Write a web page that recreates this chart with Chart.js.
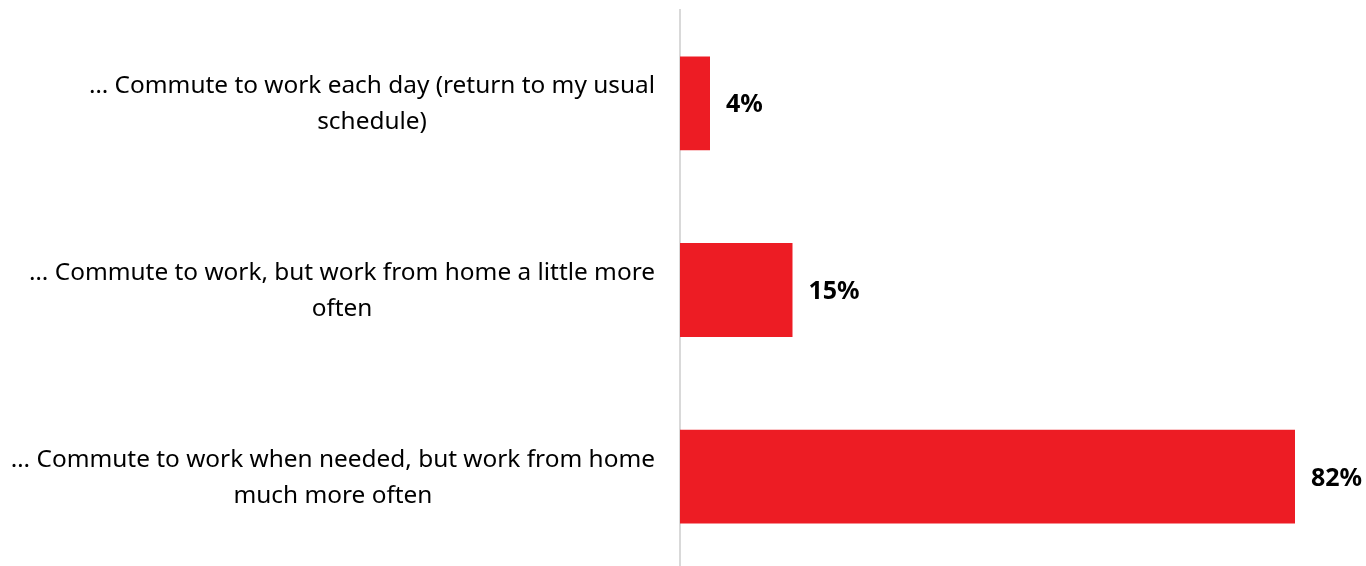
<!DOCTYPE html>
<html>
<head>
<meta charset="utf-8">
<script src="https://cdn.jsdelivr.net/npm/chart.js@4"></script>
<style>
  html, body { margin: 0; padding: 0; background: #fff; overflow: hidden; }
  #wrap { width: 1366px; height: 570px; }
</style>
</head>
<body>
<div id="wrap"><canvas id="commuteChart"></canvas></div>
<script>
const categories = [
  ["… Commute to work each day (return to my usual", "schedule)"],
  ["… Commute to work, but work from home a little more", "often"],
  ["… Commute to work when needed, but work from home", "much more often"],
];
const shares = [4, 15, 82];

const labelFont = '24.4px "Noto Sans", "Open Sans", sans-serif';
const valueFont = 'bold 25px "Noto Sans", "Open Sans", sans-serif';

// category labels: block right-aligned, lines centred inside the block
const labelPlugin = {
  id: "labels",
  afterDatasetsDraw(chart) {
    const { ctx, scales } = chart;
    const yScale = scales.y;
    const rightEdge = chart.chartArea.left - 25;
    ctx.save();
    ctx.fillStyle = "#000";
    ctx.font = labelFont;
    ctx.textBaseline = "middle";
    ctx.textAlign = "center";
    const lineH = 36;
    categories.forEach((lines, i) => {
      const cy = yScale.getPixelForTick(i);
      const w = Math.max(...lines.map((l) => ctx.measureText(l).width));
      const cx = rightEdge - w / 2;
      const top = cy - ((lines.length - 1) * lineH) / 2 + 1;
      lines.forEach((l, j) => ctx.fillText(l, cx, top + j * lineH));
    });

    // value labels
    ctx.font = valueFont;
    ctx.textAlign = "left";
    const meta = chart.getDatasetMeta(0);
    meta.data.forEach((bar, i) => {
      ctx.fillText(shares[i] + "%", bar.x + 16, bar.y + 2);
    });
    ctx.restore();
  },
};

new Chart(document.getElementById("commuteChart"), {
  type: "bar",
  data: {
    labels: categories,
    datasets: [
      {
        data: shares,
        backgroundColor: "#ED1C24",
        categoryPercentage: 1,
        barPercentage: 0.503,
      },
    ],
  },
  options: {
    indexAxis: "y",
    responsive: true,
    maintainAspectRatio: false,
    animation: false,
    layout: {
      padding: { left: 680, right: 11, top: 10, bottom: 0 },
    },
    plugins: {
      legend: { display: false },
      tooltip: { enabled: false },
    },
    scales: {
      x: {
        display: false,
        min: 0,
        max: 90,
      },
      y: {
        display: true,
        ticks: { display: false },
        grid: { display: false, drawTicks: false },
        border: { display: true, color: "#d9d9d9", width: 2 },
      },
    },
  },
  plugins: [labelPlugin],
});
</script>
</body>
</html>
